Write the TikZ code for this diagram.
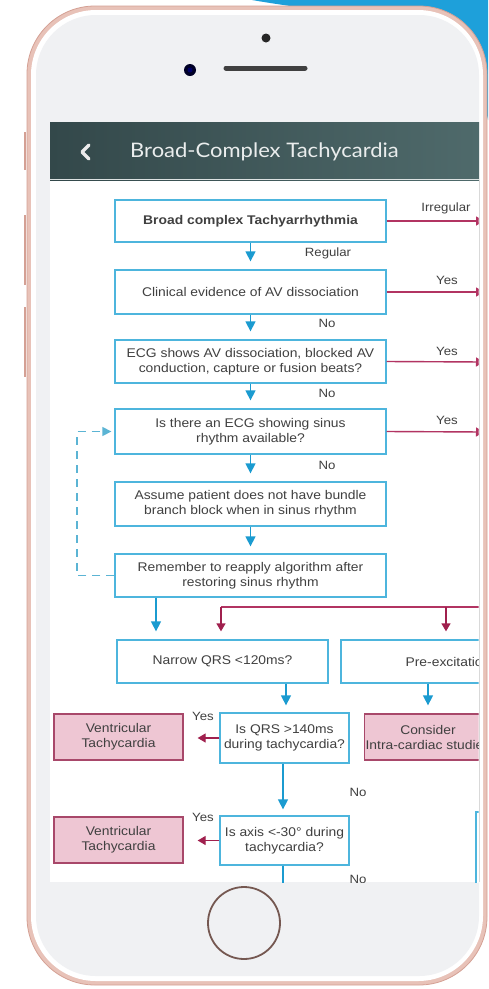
\documentclass[tikz,border=0pt]{standalone}
\usepackage{fontspec}
\setmainfont{Liberation Sans}
\newfontfamily\boxfont[FakeStretch=1.1]{Liberation Sans}
\newfontfamily\titlefont[FakeStretch=1.1]{Lato}
\usetikzlibrary{arrows.meta,calc}
\definecolor{bgblue}{HTML}{1EA0DA}
\definecolor{rose}{HTML}{E8C2B8}
\definecolor{rosedark}{HTML}{D4A094}
\definecolor{front}{HTML}{F0F1F3}
\definecolor{hdrL}{HTML}{33484A}
\definecolor{hdrR}{HTML}{4F6A6B}
\definecolor{boxblue}{HTML}{4DB5DD}
\definecolor{arrblue}{HTML}{1B9BD0}
\definecolor{redline}{HTML}{B23462}
\definecolor{redarr}{HTML}{A0204E}
\definecolor{pinkfill}{HTML}{EEC6D3}
\definecolor{pinkdraw}{HTML}{A8486A}
\definecolor{txtgray}{HTML}{404040}
\definecolor{dashblue}{HTML}{5BB4D4}
\begin{document}
\begin{tikzpicture}[x=1pt,y=-1pt,
  bfont/.style={font=\boxfont\fontsize{12.6}{15}\selectfont},
  bbox/.style={draw=boxblue,line width=1.3pt,fill=white,align=center,text=txtgray,bfont,inner sep=0pt},
  pbox/.style={draw=pinkdraw,line width=1.3pt,fill=pinkfill,align=center,text=txtgray,bfont,inner sep=0pt},
  barrow/.style={draw=arrblue,line width=1.3pt,-{Triangle[width=10pt,length=10pt]}},
  rarrow/.style={draw=redarr,line width=1.3pt,-{Triangle[width=9pt,length=8pt]}},
  rline/.style={draw=redline,line width=1.4pt},
  lbl/.style={text=txtgray,font=\boxfont\fontsize{12}{13}\selectfont,inner sep=0pt}
]
\useasboundingbox (0,0) rectangle (488,989);
% background blue shape
\fill[bgblue] (252,0) .. controls (330,14) and (470,20) .. (488,120) -- (488,0) -- cycle;
% phone body
\fill[rose,draw=rosedark,line width=0.8pt,rounded corners=68] (27,6) rectangle (487,985);
\fill[white,rounded corners=65] (31,10) rectangle (483,981);
\fill[front,rounded corners=60] (36,15) rectangle (479,976);
% side buttons
\draw[rosedark,line width=1.2pt] (25,132) -- (25,170);
\draw[rosedark,line width=1.2pt] (25,215) -- (25,285);
\draw[rosedark,line width=1.2pt] (25,307) -- (25,377);
% speaker, camera, sensor
\draw[line width=5pt,line cap=round,color=black!75] (226,68) -- (305,68);
\fill[black!85] (266,38) circle (4.5);
\fill[black!85!blue] (190,70) circle (6);
\fill[blue!40!black] (190,70) circle (2.5);
% home button
\draw[line width=1.8pt,color=black!45!rosedark] (244,923) circle (36);
% screen
\fill[white] (50,180) rectangle (479,882);
\shade[left color=hdrL,right color=hdrR] (50,122) rectangle (479,180);
\draw[white!80!hdrR,line width=0.8pt] (50,179.5) -- (479,179.5);
\draw[line width=3.2pt,color=white!92!black,line cap=round,line join=round] (89,145) -- (82,152) -- (89,159);
\node[anchor=west,text=white!88!hdrR,font=\titlefont\fontsize{20}{22}\selectfont,inner sep=0pt] (title) at (130,152) {Broad-Complex Tachycardia};
\draw[black!15,line width=0.8pt] (479,180) -- (479,882);
\begin{scope}
\clip (50,180) rectangle (478.5,882);
% main column
\node[bbox,minimum width=271,minimum height=42,font=\boxfont\bfseries\fontsize{12.6}{15}\selectfont] (b1) at (250.5,221) {Broad complex Tachyarrhythmia};
\node[bbox,minimum width=271,minimum height=44] (b2) at (250.5,292) {Clinical evidence of AV dissociation};
\node[bbox,minimum width=271,minimum height=43] (b3) at (250.5,361.5) {ECG shows AV dissociation, blocked AV\\conduction, capture or fusion beats?};
\node[bbox,minimum width=271,minimum height=45] (b4) at (250.5,431.5) {Is there an ECG showing sinus\\rhythm available?};
\node[bbox,minimum width=271,minimum height=44] (b5) at (250.5,504) {Assume patient does not have bundle\\branch block when in sinus rhythm};
\node[bbox,minimum width=271,minimum height=43] (b6) at (250.5,575.5) {Remember to reapply algorithm after\\restoring sinus rhythm};
\node[bbox,minimum width=211,minimum height=43] (nar) at (222.5,661.5) {Narrow QRS <120ms?};
\node[bbox,minimum width=214,minimum height=43] (pre) at (448,661.5) {Pre-excitation};
\node[bbox,minimum width=129,minimum height=50] (qrs) at (284.5,738) {Is QRS >140ms\\during tachycardia?};
\node[bbox,minimum width=129,minimum height=49] (axis) at (284.5,840.5) {Is axis <-30° during\\tachycardia?};
\node[pbox,minimum width=129,minimum height=46] (vt1) at (118.5,737) {Ventricular\\Tachycardia};
\node[pbox,minimum width=129,minimum height=46] (vt2) at (118.5,840) {Ventricular\\Tachycardia};
\node[pbox,minimum width=127,minimum height=46] (cons) at (428,737) {Consider\\Intra-cardiac studies};
\node[bbox,minimum width=128,minimum height=76] (rbox) at (540,850) {};
% blue arrows down
\draw[barrow,shorten >=8pt] (b1) -- (b2);
\draw[barrow,shorten >=8pt] (b2) -- (b3);
\draw[barrow,shorten >=8pt] (b3) -- (b4);
\draw[barrow,shorten >=8pt] (b4) -- (b5);
\draw[barrow,shorten >=7pt] (b5) -- (b6);
\coordinate (c6) at ($(b6.south)+(-94.5,0)$);
\draw[barrow,shorten >=8pt] (c6) -- (c6 |- nar.north);
\coordinate (cn) at ($(nar.south)+(63.5,0)$);
\draw[barrow,shorten >=7pt] (cn) -- (cn |- qrs.north);
\coordinate (cq) at ($(qrs.south)+(-1.5,0)$);
\draw[barrow,shorten >=6pt] (cq) -- (cq |- axis.north);
\coordinate (ca) at ($(axis.south)+(-1.5,0)$);
\coordinate (cabot) at (283,895);
\draw[arrblue,line width=1.3pt] (ca) -- (cabot);
\coordinate (cp) at ($(pre.south)+(-20,0)$);
\draw[barrow,shorten >=8pt] (cp) -- (cp |- cons.north);
% dashed loop
\coordinate (d1) at (77,575.5);
\coordinate (d2) at (77,431.5);
\draw[dashblue,line width=1.3pt,dash pattern=on 8pt off 6pt,-{Triangle[width=9pt,length=9pt]},shorten >=3pt] (b6.west) -- (d1) -- (d2) -- (b4.west);
% red connectors to right
\coordinate (r1) at (484,221);
\coordinate (r2) at (484,292);
\coordinate (r3) at (484,362);
\coordinate (r4) at (484,432);
\draw[rline,-{Triangle[width=9pt,length=8pt]}] (b1.east) -- (r1);
\draw[rline,-{Triangle[width=9pt,length=8pt]}] (b2.east) -- (r2);
\draw[rline,-{Triangle[width=9pt,length=8pt]}] (b3.east) -- (r3);
\draw[rline,-{Triangle[width=9pt,length=8pt]}] (b4.east) -- (r4);
% red distribution line
\coordinate (rR) at (490,607);
\coordinate (rL) at (221,607);
\coordinate (rM) at (446,607);
\draw[rline] (rR) -- (rL);
\draw[rarrow,shorten >=8pt] (rL) -- (rL |- nar.north);
\draw[rarrow,shorten >=8pt] (rM) -- (rM |- pre.north);
% red left arrows
\draw[rarrow,shorten >=14pt] (qrs.west) -- (vt1.east |- qrs.west);
\draw[rarrow,shorten >=14pt] (axis.west) -- (vt2.east |- axis.west);
% labels
\node[lbl] (lirr) at (446,208) {Irregular};
\node[lbl] (lreg) at (328,253) {Regular};
\node[lbl] (ly2) at (447,280) {Yes};
\node[lbl] (ln2) at (327,323) {No};
\node[lbl] (ly3) at (447,351) {Yes};
\node[lbl] (ln3) at (327,393) {No};
\node[lbl] (ly4) at (447,420) {Yes};
\node[lbl] (ln4) at (327,465) {No};
\node[lbl] (lyq) at (203,716) {Yes};
\node[lbl] (lnq) at (358,792) {No};
\node[lbl] (lya) at (203,817) {Yes};
\node[lbl] (lna) at (358,879) {No};
\end{scope}
\end{tikzpicture}
\end{document}
